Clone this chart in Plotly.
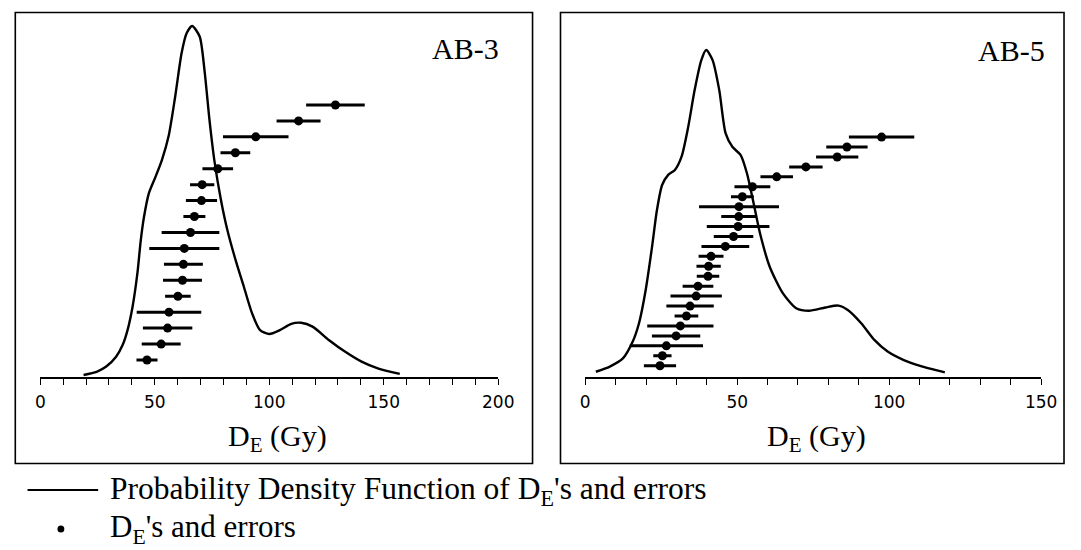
import plotly.graph_objects as go

# ---------------- data ----------------
# AB-3 : equivalent doses (Gy) and 1-sigma errors, sorted ascending
ab3_de = [46.6, 52.8, 55.6, 56.2, 60.1, 62.1, 62.5, 62.9, 65.6, 67.3, 70.4, 70.7,
          77.5, 85.2, 94.1, 112.8, 128.9]
ab3_err = [4.6, 8.5, 10.8, 14.1, 5.6, 8.5, 8.5, 15.3, 12.6, 4.8, 6.8, 5.3,
           6.7, 6.5, 14.3, 9.6, 12.8]
# AB-3 probability density (relative)
ab3_pdf_x = [18.9, 24.6, 28.8, 33.1, 36.0, 38.1, 40.3, 42.4, 43.9, 45.3, 47.4, 50.3,
             53.1, 56.0, 58.9, 61.7, 63.9, 66.3, 69.6, 71.7, 73.9, 76.0, 78.9, 81.7,
             85.3, 88.9, 92.5, 96.0, 100.0, 104.6, 109.6, 113.9, 118.9, 126.0, 133.2,
             140.3, 147.4, 157.0]
ab3_pdf_y = [0.003, 0.012, 0.027, 0.055, 0.089, 0.131, 0.198, 0.293, 0.389, 0.455,
             0.522, 0.569, 0.617, 0.684, 0.798, 0.922, 0.979, 1.0, 0.970, 0.874,
             0.731, 0.617, 0.503, 0.417, 0.331, 0.255, 0.179, 0.131, 0.120, 0.131,
             0.149, 0.152, 0.141, 0.103, 0.069, 0.041, 0.022, 0.006]

# AB-5
ab5_de = [24.6, 25.4, 26.7, 29.9, 31.3, 33.3, 34.5, 36.5, 37.1, 40.4, 40.6, 41.4,
          46.1, 48.8, 50.3, 50.5, 50.6, 51.7, 55.0, 63.0, 72.6, 82.9, 86.1, 97.5]
ab5_err = [5.3, 3.0, 12.05, 7.95, 10.9, 3.9, 7.8, 8.45, 5.05, 3.7, 4.0, 4.1,
           7.85, 6.5, 10.3, 5.75, 13.15, 3.75, 5.9, 5.35, 5.5, 6.95, 6.8, 10.75]
ab5_pdf_x = [3.5, 8.1, 12.4, 15.6, 17.7, 19.9, 22.0, 23.6, 25.3, 27.3, 29.5, 31.7,
             33.9, 36.0, 38.2, 39.8, 41.9, 44.1, 46.2, 48.4, 51.1, 53.2, 55.4, 57.5,
             60.7, 65.0, 69.4, 73.6, 79.0, 83.3, 86.5, 90.8, 95.2, 99.5, 104.8,
             110.2, 118.3]
ab5_pdf_y = [0.013, 0.029, 0.054, 0.105, 0.162, 0.264, 0.397, 0.509, 0.586, 0.617,
             0.632, 0.673, 0.765, 0.877, 0.969, 1.0, 0.969, 0.877, 0.744, 0.703,
             0.678, 0.622, 0.530, 0.438, 0.335, 0.254, 0.208, 0.200, 0.210, 0.216,
             0.202, 0.162, 0.110, 0.075, 0.049, 0.031, 0.011]

tick_vals_ab3 = [0, 50, 100, 150, 200]
tick_vals_ab5 = [0, 50, 100, 150]

# ---------------- layout helpers ----------------
W, H = 1081, 550
def px(x):
    return x / W
def py(y):
    return 1 - y / H

SERIF = "Liberation Serif, Times New Roman, serif"
SANS = "DejaVu Sans, sans-serif"

Y_BOT, Y_TOP = 377, 17   # pixel rows of the plotting area
AREA_H = Y_BOT - Y_TOP

def rank(n):
    return list(range(1, n + 1))

fig = go.Figure()

# AB-3
fig.add_trace(go.Scatter(x=ab3_pdf_x, y=ab3_pdf_y, mode="lines",
                         line=dict(color="black", width=2.4, shape="spline", smoothing=0.7),
                         xaxis="x", yaxis="y", showlegend=False, hoverinfo="skip"))
fig.add_trace(go.Scatter(x=ab3_de, y=rank(len(ab3_de)), mode="markers",
                         marker=dict(color="black", size=9),
                         error_x=dict(type="data", array=ab3_err, color="black",
                                      thickness=3, width=0),
                         xaxis="x", yaxis="y2", showlegend=False))
# AB-5
fig.add_trace(go.Scatter(x=ab5_pdf_x, y=ab5_pdf_y, mode="lines",
                         line=dict(color="black", width=2.4, shape="spline", smoothing=0.7),
                         xaxis="x3", yaxis="y3", showlegend=False, hoverinfo="skip"))
fig.add_trace(go.Scatter(x=ab5_de, y=rank(len(ab5_de)), mode="markers",
                         marker=dict(color="black", size=9),
                         error_x=dict(type="data", array=ab5_err, color="black",
                                      thickness=3, width=0),
                         xaxis="x3", yaxis="y4", showlegend=False))

# y ranges chosen so that curves / dot rows land where the original places them
def pdf_range(base_px, peak_px):
    scale = (base_px - peak_px)  # px per unit density
    return [-(Y_BOT - base_px) / scale, (base_px - Y_TOP) / scale]

def rank_range(first_px, spacing):
    a = 1 - (Y_BOT - first_px) / spacing
    return [a, a + AREA_H / spacing]

ydom = [py(Y_BOT), py(Y_TOP)]
xcommon = dict(showline=True, linecolor="black", linewidth=1.5, ticks="outside",
               ticklen=6, tickwidth=1.2, tickcolor="black", showgrid=False,
               zeroline=False, tickfont=dict(family=SANS, size=17, color="black"),
               ticklabelstandoff=3,
               minor=dict(dtick=10, ticks="outside", ticklen=6, tickwidth=1.2,
                          tickcolor="black", showgrid=False))

fig.update_layout(
    width=W, height=H, margin=dict(l=0, r=0, t=0, b=0),
    paper_bgcolor="white", plot_bgcolor="rgba(0,0,0,0)",
    xaxis=dict(domain=[px(36), px(503)], range=[0, 200], anchor="y",
               tickvals=tick_vals_ab3, **xcommon),
    yaxis=dict(domain=ydom, range=pdf_range(376, 26), visible=False, anchor="x"),
    yaxis2=dict(overlaying="y", range=rank_range(360, 15.94), visible=False, anchor="x"),
    xaxis3=dict(domain=[px(591.7), px(1056.7)], range=[0, 150], anchor="y3",
                tickvals=tick_vals_ab5, **xcommon),
    yaxis3=dict(domain=ydom, range=pdf_range(376, 50), visible=False, anchor="x3"),
    yaxis4=dict(overlaying="y3", range=rank_range(365.7, 9.94), visible=False, anchor="x3"),
)

shapes = [
    dict(type="rect", xref="paper", yref="paper", x0=px(10.5), x1=px(538), y0=py(463.5),
         y1=py(12.5), line=dict(color="black", width=1.6)),
    dict(type="rect", xref="paper", yref="paper", x0=px(566.5), x1=px(1080), y0=py(463.5),
         y1=py(12.5), line=dict(color="black", width=1.6)),
    dict(type="line", xref="paper", yref="paper", x0=px(23), x1=px(95), y0=py(490),
         y1=py(490), line=dict(color="black", width=2.2)),
    dict(type="circle", xref="paper", yref="paper", x0=px(53.5), x1=px(60.5),
         y0=py(532.5), y1=py(525.5), fillcolor="black", line=dict(color="black", width=0)),
]
fig.update_layout(shapes=shapes)

def ann(text, x, y, size, xanchor="center", yanchor="middle"):
    return dict(text=text, x=px(x), y=py(y), xref="paper", yref="paper",
                showarrow=False, xanchor=xanchor, yanchor=yanchor,
                font=dict(family=SERIF, size=size, color="black"))

annotations = [
    ann("AB-3", 506, 48, 30, xanchor="right"),
    ann("AB-5", 1063, 50, 30, xanchor="right"),
    ann("D<sub>E</sub> (Gy)", 278, 438, 30),
    ann("D<sub>E</sub> (Gy)", 828, 438, 30),
    ann("Probability Density Function of D<sub>E</sub>'s and errors", 105, 491, 31.5,
        xanchor="left"),
    ann("D<sub>E</sub>'s and errors", 105, 529, 31, xanchor="left"),
]
fig.update_layout(annotations=annotations)

fig.write_html("out.html")
